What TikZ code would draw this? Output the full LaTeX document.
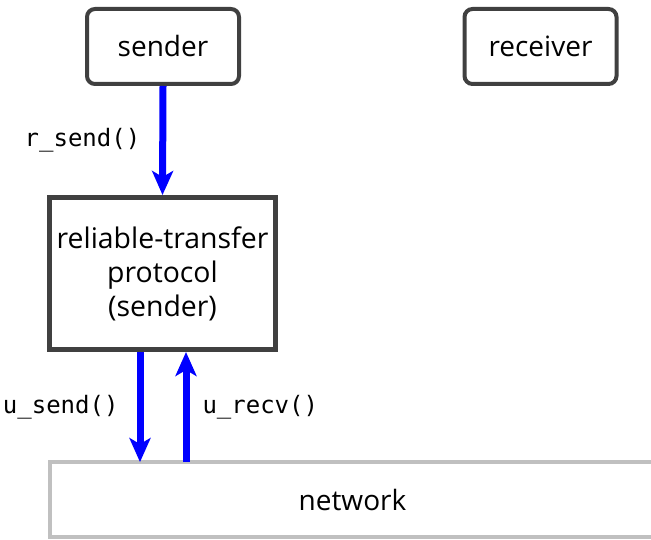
\documentclass[tikz,border=0pt]{standalone}
\usepackage{fontspec}
\setmainfont{Open Sans}
\newfontfamily\codefont{DejaVu Sans Mono}
\usetikzlibrary{arrows.meta}
\definecolor{boxgray}{HTML}{404040}
\definecolor{netgray}{HTML}{C0C0C0}
\begin{document}
\begin{tikzpicture}[x=0.5pt,y=-0.5pt,
  app/.style={draw=boxgray,line width=2pt,rounded corners=4pt,minimum width=76pt,minimum height=37.5pt,font=\fontsize{14}{17}\selectfont},
  proto/.style={draw=boxgray,line width=2.5pt,minimum width=113pt,minimum height=76pt,inner sep=0pt,align=center,font=\fontsize{14.2}{17}\selectfont},
  net/.style={minimum width=320pt,minimum height=37.25pt,inner sep=0pt},
  flow/.style={draw=blue,line width=3.5pt,-{Stealth[length=12pt,width=10.5pt,inset=3pt]}},
  call/.style={font=\codefont\fontsize{12}{14}\selectfont,inner sep=0pt}]
\useasboundingbox (0,0) rectangle (651,539);
\node[app] (sender) at (163,46.5) {sender};
\node[app] (receiver) at (540.5,46.5) {receiver};
\node[proto] (rdt) at (162.5,273.5) {reliable-transfer\\protocol\\(sender)};
\node[net, anchor=west] (network) at (49.5,499.75) {};
\draw[netgray,line width=2pt] (network.north east) -- (network.north west) -- (network.south west) -- (network.south east);
\node[font=\fontsize{14}{17}\selectfont] (nettext) at (352.5,499.75) {network};
% calls between the layers
\draw[flow] (sender.south) -- (rdt.north) node[midway,left=9.5pt,call] (rsend) {r\_send()};
\draw[flow] ([xshift=-11.25pt]rdt.south) -- ([xshift=-11.25pt]rdt.south |- network.north) node[midway,left=9pt,call] (usend) {u\_send()};
\draw[flow] ([xshift=11.75pt]rdt.south |- network.north) -- ([xshift=11.75pt]rdt.south) node[midway,right=6.5pt,call] (urecv) {u\_recv()};
\end{tikzpicture}
\end{document}
